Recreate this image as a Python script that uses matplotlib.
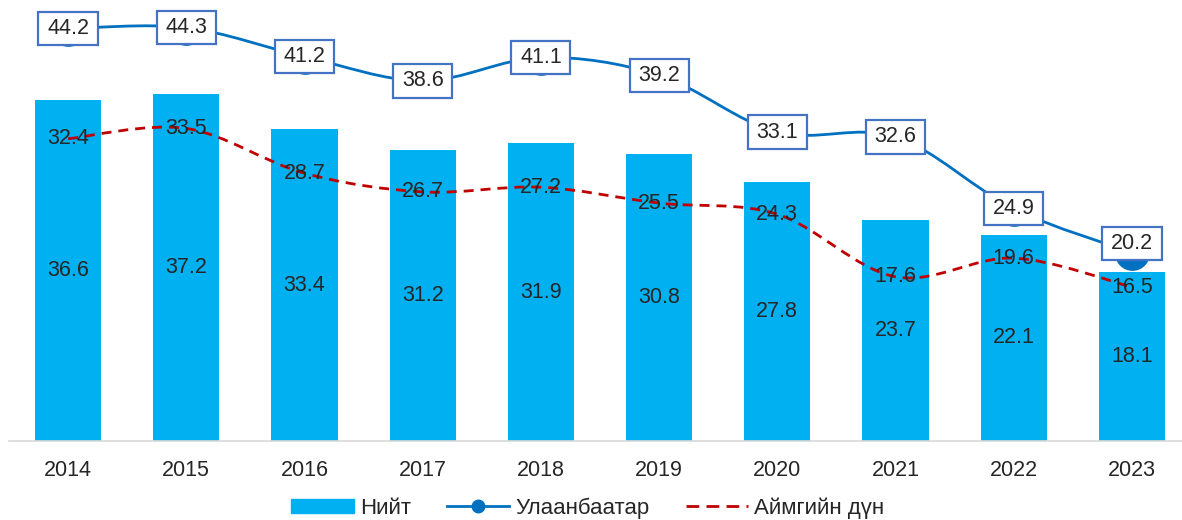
import matplotlib.pyplot as plt
import numpy as np
from matplotlib.path import Path
from matplotlib.patches import PathPatch, Patch
from matplotlib.lines import Line2D

plt.rcParams['font.family'] = ['Liberation Sans', 'DejaVu Sans']

years = ['2014', '2015', '2016', '2017', '2018', '2019', '2020', '2021', '2022', '2023']
total = [36.6, 37.2, 33.4, 31.2, 31.9, 30.8, 27.8, 23.7, 22.1, 18.1]
ub = [44.2, 44.3, 41.2, 38.6, 41.1, 39.2, 33.1, 32.6, 24.9, 20.2]
aimag = [32.4, 33.5, 28.7, 26.7, 27.2, 25.5, 24.3, 17.6, 19.6, 16.5]

bar_c = '#00B0F0'
ub_c = '#0070C0'
aim_c = '#C00000'
txt_c = '#262626'
fs = 15.5


def smooth_path(x, y):
    # excel-like smoothed line through the points
    pts = np.column_stack([x, y]).astype(float)
    n = len(pts)
    verts = [pts[0]]
    codes = [Path.MOVETO]
    for i in range(n - 1):
        p0 = pts[max(i - 1, 0)]
        p1 = pts[i]
        p2 = pts[i + 1]
        p3 = pts[min(i + 2, n - 1)]
        verts += [p1 + (p2 - p0) / 6, p2 - (p3 - p1) / 6, p2]
        codes += [Path.CURVE4] * 3
    return Path(verts, codes)


def wide_box(x0, y0, width, height, mutation_size):
    # rectangle with more padding left/right than top/bottom
    px = 0.4 * mutation_size
    py = 0.29 * mutation_size
    x0, y0 = x0 - px, y0 - py
    x1, y1 = x0 + width + 2 * px, y0 + height + 2 * py
    return Path([(x0, y0), (x1, y0), (x1, y1), (x0, y1), (x0, y0)], closed=True)


fig = plt.figure(figsize=(11.82, 5.2), dpi=100)
ax = fig.add_axes([9 / 1182, 79 / 520, 1.0, 441 / 520])

x = np.arange(len(years))
ax.bar(x, total, width=0.56, color=bar_c, zorder=1)
for xi, v in zip(x, total):
    ax.text(xi, v / 2, f'{v:.1f}', ha='center', va='center', fontsize=fs, color=txt_c, zorder=5)

ax.add_patch(PathPatch(smooth_path(x, ub), fill=False, edgecolor=ub_c, lw=2.0, zorder=3))
ax.plot(x, ub, 'o', color=ub_c, markersize=24, zorder=3)
ax.add_patch(PathPatch(smooth_path(x, aimag), fill=False, edgecolor=aim_c, lw=2.0,
                       linestyle=(0, (3.6, 2.5)), zorder=3))

for i, v in enumerate(ub):
    dy = 6.5 if i == len(ub) - 1 else 0
    ax.annotate(f'{v:.1f}', (x[i], v), xytext=(0, dy), textcoords='offset points',
                ha='center', va='center', fontsize=fs, color=txt_c, zorder=6,
                bbox=dict(boxstyle=wide_box, fc='white', ec='#4472C4', lw=1.6))
for i, v in enumerate(aimag):
    ax.text(x[i], v, f'{v:.1f}', ha='center', va='center', fontsize=fs, color=txt_c, zorder=4)

ax.set_xlim(-0.5, 9.5)
ax.set_ylim(0, 441 / 9.33)
ax.set_xticks(x)
ax.set_xticklabels(years, fontsize=fs, color=txt_c)
ax.tick_params(axis='x', length=0, pad=14)
ax.set_yticks([])
for s in ['top', 'right', 'left']:
    ax.spines[s].set_visible(False)
ax.spines['bottom'].set_color('#D9D9D9')
ax.spines['bottom'].set_linewidth(1.2)

handles = [
    Patch(color=bar_c),
    Line2D([], [], color=ub_c, lw=2.0, marker='o', markersize=9),
    Line2D([], [], color=aim_c, lw=2.0, linestyle=(0, (4.6, 2.6))),
]
labels = ['Нийт', 'Улаанбаатар', 'Аймгийн дүн']
fig.legend(handles, labels, loc='center', bbox_to_anchor=(588 / 1182, 12 / 520), ncol=3,
           frameon=False, fontsize=16, handlelength=2.8, handleheight=0.55,
           handletextpad=0.3, columnspacing=1.6, labelcolor=txt_c,
           borderpad=0.1)

fig.savefig('out.png', dpi=100)
